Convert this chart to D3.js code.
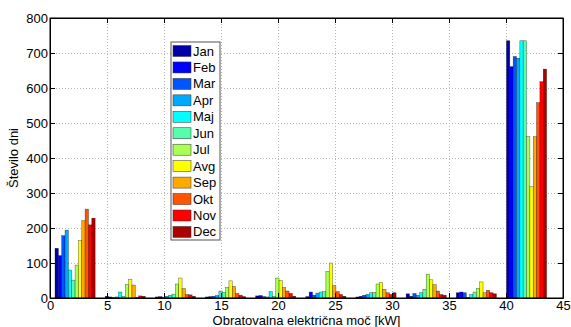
<!DOCTYPE html>
<html>
<head>
<meta charset="utf-8">
<script src="https://cdn.jsdelivr.net/npm/d3@7"></script>
<style>
  body { margin: 0; background: #fff; }
  svg { display: block; font-family: "Liberation Sans", Arial, sans-serif; }
</style>
</head>
<body>
<svg width="571" height="327"></svg>
<script>
// bin centres of the histogram (kW)
var binCenters = [2.2, 6.6, 11, 15.4, 19.8, 24.2, 28.6, 33, 37.4, 41.8];
var binWidth = 4.4;

var months = ["Jan", "Feb", "Mar", "Apr", "Maj", "Jun", "Jul", "Avg", "Sep", "Okt", "Nov", "Dec"];

var jan = [142, 5, 3, 3, 6, 4, 3, 12, 15, 735];
var feb = [121, 3, 4, 4, 7, 17, 5, 5, 17, 661];
var mar = [178, 1, 2, 5, 4, 8, 8, 13, 15, 690];
var apr = [194, 3, 5, 7, 3, 14, 10, 8, 2, 685];
var maj = [80, 17, 8, 20, 18, 17, 15, 15, 10, 735];
var jun = [51, 5, 11, 16, 5, 18, 16, 25, 17, 735];
var jul = [94, 38, 40, 30, 57, 76, 40, 68, 28, 461];
var avg = [164, 53, 57, 49, 50, 100, 44, 52, 46, 318];
var sep = [221, 37, 27, 33, 30, 35, 25, 38, 15, 461];
var okt = [254, 2, 10, 13, 20, 18, 15, 20, 22, 558];
var nov = [209, 6, 9, 8, 13, 10, 10, 10, 15, 618];
var dec = [228, 5, 5, 4, 5, 5, 15, 8, 12, 654];

var series = [jan, feb, mar, apr, maj, jun, jul, avg, sep, okt, nov, dec];

var xTicks = [0, 5, 10, 15, 20, 25, 30, 35, 40, 45];
var yTicks = [0, 100, 200, 300, 400, 500, 600, 700, 800];

// jet(12)
var colors = ["#0000aa", "#0000ff", "#0055ff", "#00aaff", "#00ffff", "#55ffaa",
              "#aaff55", "#ffff00", "#ffaa00", "#ff5500", "#ff0000", "#aa0000"];

var svg = d3.select("svg"),
    pl = 50, pr = 563, pt = 18, pb = 298;

var x = d3.scaleLinear().domain([0, 45]).range([pl, pr]);
var y = d3.scaleLinear().domain([0, 800]).range([pb, pt]);

// grid
var grid = svg.append("g")
    .attr("stroke", "#b8b8b8")
    .attr("stroke-dasharray", "1,2")
    .attr("stroke-width", 1);
grid.selectAll(".gx").data(xTicks.slice(1, -1)).enter().append("line")
    .attr("x1", function(d) { return x(d) + 0.5; })
    .attr("x2", function(d) { return x(d) + 0.5; })
    .attr("y1", pt).attr("y2", pb);
grid.selectAll(".gy").data(yTicks.slice(1, -1)).enter().append("line")
    .attr("y1", function(d) { return y(d) + 0.5; })
    .attr("y2", function(d) { return y(d) + 0.5; })
    .attr("x1", pl).attr("x2", pr);

// bars
var groupW = binWidth * 0.8;
var barW = groupW / months.length;
var bars = svg.append("g");
series.forEach(function(vals, m) {
    bars.selectAll(".b" + m).data(vals).enter().append("rect")
        .attr("x", function(d, i) { return x(binCenters[i] - groupW / 2 + m * barW); })
        .attr("width", x(barW) - x(0))
        .attr("y", function(d) { return y(d); })
        .attr("height", function(d) { return y(0) - y(d); })
        .attr("fill", colors[m])
        .attr("stroke", "#000")
        .attr("stroke-opacity", 0.6)
        .attr("stroke-width", 0.5);
});

// axes (ticks inside, mirrored)
svg.append("g")
    .attr("transform", "translate(0," + pb + ")")
    .call(d3.axisBottom(x).tickValues(xTicks).tickSizeInner(-5).tickSizeOuter(0).tickPadding(3))
    .call(function(g) { g.selectAll("text").attr("font-size", 13).attr("fill", "#000"); });
svg.append("g")
    .attr("transform", "translate(" + pl + ",0)")
    .call(d3.axisLeft(y).tickValues(yTicks).tickSizeInner(-5).tickSizeOuter(0).tickPadding(2))
    .call(function(g) { g.selectAll("text").attr("font-size", 13).attr("fill", "#000"); });
svg.append("g")
    .attr("transform", "translate(0," + pt + ")")
    .call(d3.axisTop(x).tickValues(xTicks).tickSizeInner(-5).tickSizeOuter(0).tickFormat(""));
svg.append("g")
    .attr("transform", "translate(" + pr + ",0)")
    .call(d3.axisRight(y).tickValues(yTicks).tickSizeInner(-5).tickSizeOuter(0).tickFormat(""));
svg.selectAll(".domain").attr("stroke", "#000");
svg.selectAll(".tick line").attr("stroke", "#000");

svg.append("rect")
    .attr("x", pl).attr("y", pt)
    .attr("width", pr - pl).attr("height", pb - pt)
    .attr("fill", "none").attr("stroke", "#000").attr("stroke-width", 1);

// labels
svg.append("text")
    .attr("x", (pl + pr) / 2).attr("y", 325)
    .attr("text-anchor", "middle").attr("font-size", 13)
    .text("Obratovalna električna moč [kW]");
svg.append("text")
    .attr("transform", "translate(18," + (pt + pb) / 2 + ") rotate(-90)")
    .attr("text-anchor", "middle").attr("font-size", 13)
    .text("Število dni");

// legend
var lg = svg.append("g").attr("transform", "translate(171,42)");
lg.append("rect").attr("width", 49).attr("height", 198)
    .attr("fill", "#fff").attr("stroke", "#555").attr("stroke-width", 1);
var item = lg.selectAll(".it").data(months).enter().append("g")
    .attr("transform", function(d, i) { return "translate(0," + (9 + i * 16.45) + ")"; });
item.append("rect")
    .attr("x", 2).attr("y", -5.5).attr("width", 18).attr("height", 11)
    .attr("fill", function(d, i) { return colors[i]; })
    .attr("stroke", "#333").attr("stroke-width", 0.5);
item.append("text")
    .attr("x", 22).attr("y", 4.5)
    .attr("font-size", 13)
    .text(function(d) { return d; });
</script>
</body>
</html>
